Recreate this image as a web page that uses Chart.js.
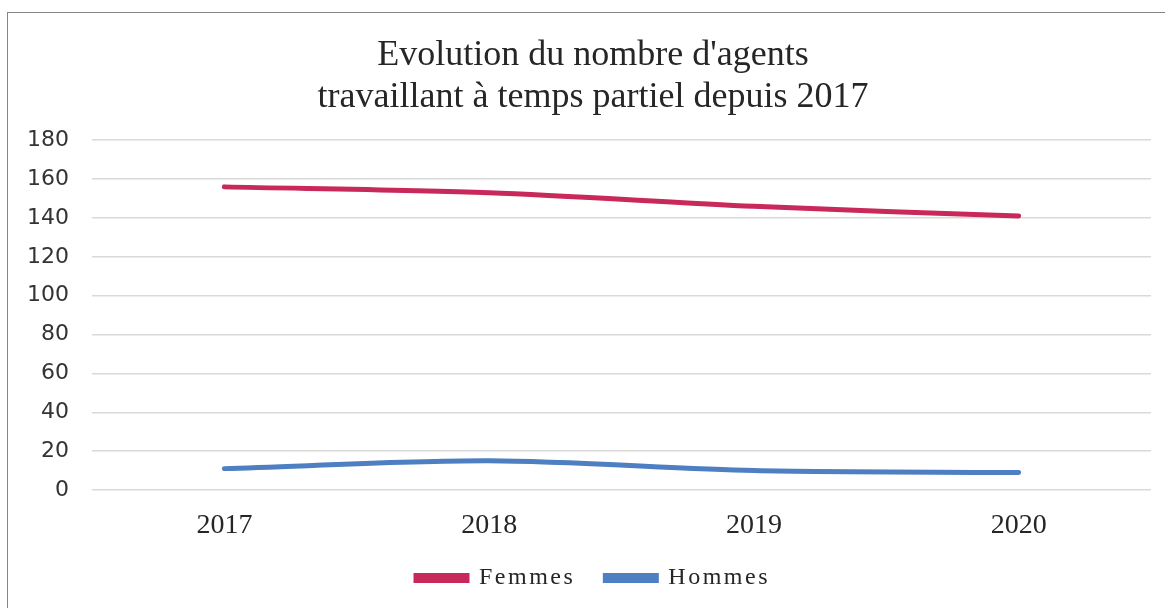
<!DOCTYPE html>
<html>
<head>
<meta charset="utf-8">
<script src="https://cdn.jsdelivr.net/npm/chart.js@4"></script>
<style>
  html, body { margin: 0; padding: 0; background: #fff; overflow: hidden; }
  #wrap { position: relative; width: 1165px; height: 608px; }
  #frame { position: absolute; left: 7px; top: 12px; width: 1200px; height: 700px; border: 1.5px solid #8a8480; }
  canvas { position: absolute; left: 0; top: 0; }
</style>
</head>
<body>
<div id="wrap">
  <div id="frame"></div>
  <canvas id="chart" width="1165" height="608"></canvas>
</div>
<script>
const years = ['2017', '2018', '2019', '2020'];
const femmes = [156, 153, 146, 141];
const hommes = [11, 15, 10, 9];
const titleLines = ["Evolution du nombre d'agents", 'travaillant à temps partiel depuis 2017'];

// legend text in the reference is letter-spaced, and its items sit far apart
const legendTweaks = {
    id: 'legendTweaks',
    afterInit(chart) {
        const lg = chart.legend;
        ['fit', 'draw'].forEach(fn => {
            const orig = lg[fn];
            lg[fn] = function(...args) {
                chart.ctx.save();
                chart.ctx.letterSpacing = '2.5px';
                const r = orig.apply(this, args);
                chart.ctx.restore();
                if (fn === 'fit') this.height = 62;
                return r;
            };
        });
    }
};

new Chart(document.getElementById('chart'), {
    type: 'line',
    data: {
        labels: years,
        datasets: [
            { label: 'Femmes', data: femmes, borderColor: '#c8295a', backgroundColor: '#c8295a' },
            { label: 'Hommes', data: hommes, borderColor: '#4d7fc2', backgroundColor: '#4d7fc2' }
        ]
    },
    options: {
        responsive: false,
        animation: false,
        layout: { padding: { left: 35, right: 14, top: 0, bottom: 10 } },
        elements: {
            line: { borderWidth: 5, tension: 0.3, borderCapStyle: 'round' },
            point: { radius: 0 }
        },
        scales: {
            x: {
                offset: true,
                grid: { display: false, drawTicks: false },
                border: { display: false },
                ticks: { padding: 19, color: '#262626', font: { family: 'Liberation Serif', size: 28 } },
                afterFit(s) { s.height = 46; }
            },
            y: {
                min: 0,
                max: 180,
                ticks: { stepSize: 20, padding: 23, color: '#333', font: { family: 'DejaVu Sans', size: 22 } },
                grid: { color: '#d9d9d9', lineWidth: 1.5, drawTicks: false },
                border: { display: false },
                afterFit(s) {
                    s.width = 57;
                    s._computeLabelArea = () => undefined; // let labels run past the padding
                }
            }
        },
        plugins: {
            title: {
                display: true,
                text: titleLines,
                color: '#262626',
                font: { family: 'Liberation Serif', size: 36, weight: 'normal', lineHeight: 1.17 },
                padding: { top: 34, bottom: 22 }
            },
            legend: {
                position: 'bottom',
                labels: {
                    boxWidth: 51,
                    boxHeight: 5,
                    padding: 30,
                    color: '#262626',
                    font: { family: 'Liberation Serif', size: 24 }
                }
            },
            tooltip: { enabled: false }
        }
    },
    plugins: [legendTweaks]
});
</script>
</body>
</html>
